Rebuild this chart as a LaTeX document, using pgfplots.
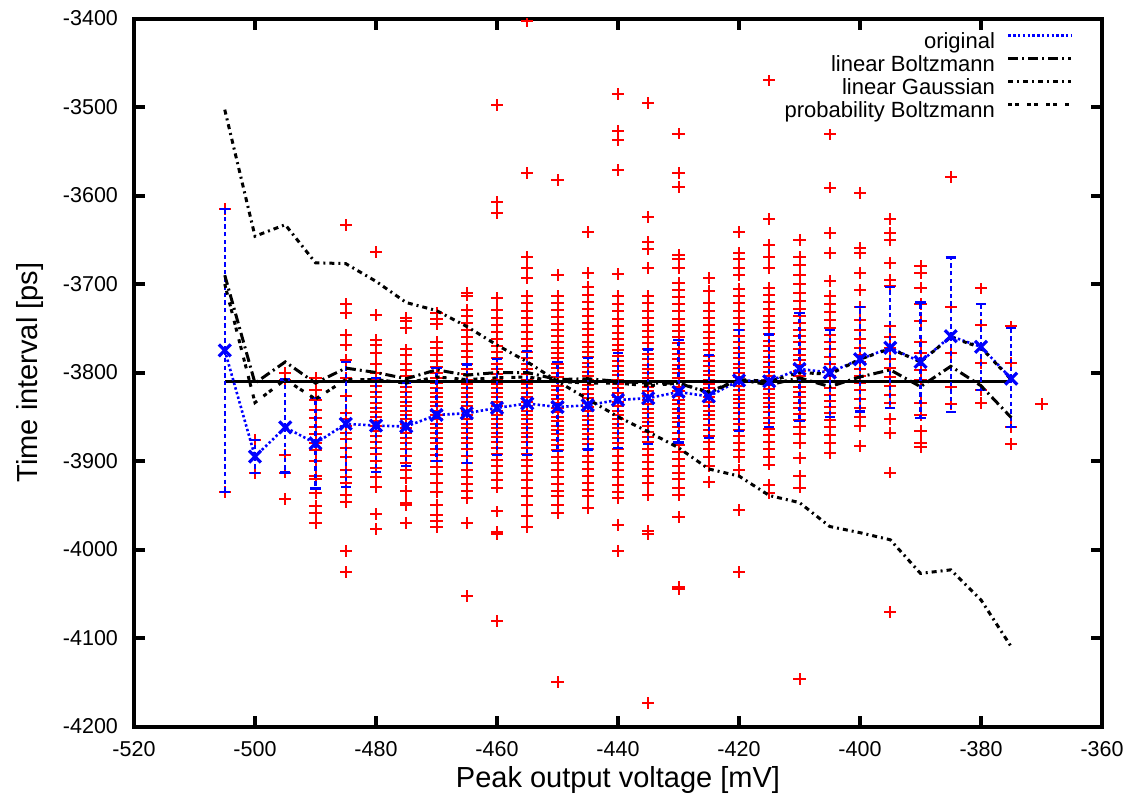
\documentclass[border=0pt]{standalone}
\usepackage{fontspec}
\setmainfont{Liberation Sans}
\usepackage{pgfplots}
\pgfplotsset{compat=1.18}
\definecolor{gpblue}{RGB}{0,0,255}
\definecolor{gpred}{RGB}{255,0,0}
% each sample is drawn as a "+" built from two fixed-size error bars
\pgfplotsset{scat/.style={draw=none, mark=none, forget plot,
  error bars/.cd, x dir=both, y dir=both, x fixed=1.0, y fixed=6.7,
  error mark=none, error bar style={draw=gpred, solid, line width=1pt}}}
\begin{document}
\begin{tikzpicture}
\begin{axis}[
  scale only axis, width=484pt, height=354pt,
  xmin=-520, xmax=-360, ymin=-4200, ymax=-3400,
  xtick={-520,-500,-480,-460,-440,-420,-400,-380,-360},
  ytick={-4200,-4100,-4000,-3900,-3800,-3700,-3600,-3500,-3400},
  scaled ticks=false,
  /pgf/number format/assume math mode=true,
  /pgf/number format/set thousands separator={},
  tick align=inside, major tick length=5.5pt,
  every tick/.style={black, line width=2pt},
  axis line style={line width=2pt},
  xticklabel style={font=\fontsize{10.75}{12}\selectfont, yshift=-4pt},
  yticklabel style={font=\fontsize{10.75}{12}\selectfont, xshift=-4.5pt},
  xlabel={Peak output voltage [mV]},
  ylabel={Time interval [ps]},
  every axis x label/.style={at={(axis description cs:0.5,-0.075)}, anchor=center, font=\fontsize{14.5}{17}\selectfont},
  every axis y label/.style={at={(axis description cs:-0.107,0.5)}, anchor=center, rotate=90, font=\fontsize{14.5}{17}\selectfont},
  legend style={draw=none, fill=none, inner sep=0pt, outer sep=0pt,
    at={(0.97,0.981)}, anchor=north east,
    font=\fontsize{11}{12}\selectfont,
    nodes={inner sep=0pt, text height=8.25pt, text depth=3.25pt},
    /tikz/column sep=6pt, /tikz/row sep=0pt},
  legend cell align=right,
  legend plot pos=right,
  legend image code/.code={\draw[#1, mark=none] (0pt,4pt) -- (31.5pt,4pt);},
]
% scatter of all samples, one column per peak voltage
\addplot[scat] coordinates {(-505,-3615) (-505,-3935)};
\addplot[scat] coordinates {(-500,-3876) (-500,-3914)};
\addplot[scat] coordinates {(-495,-3800) (-495,-3808) (-495,-3893) (-495,-3913) (-495,-3943)};
\addplot[scat] coordinates {(-490,-3806) (-490,-3820) (-490,-3831) (-490,-3842) (-490,-3851) (-490,-3862) (-490,-3870) (-490,-3880) (-490,-3888) (-490,-3900) (-490,-3917) (-490,-3920) (-490,-3936) (-490,-3951) (-490,-3959) (-490,-3970)};
\addplot[scat] coordinates {(-485,-3633) (-485,-3723) (-485,-3733) (-485,-3758) (-485,-3769) (-485,-3786) (-485,-3806) (-485,-3827) (-485,-3846) (-485,-3852) (-485,-3860) (-485,-3868) (-485,-3875) (-485,-3885) (-485,-3896) (-485,-3910) (-485,-3918) (-485,-3925) (-485,-3938) (-485,-3946) (-485,-4002) (-485,-4025)};
\addplot[scat] coordinates {(-480,-3664) (-480,-3735) (-480,-3763) (-480,-3769) (-480,-3778) (-480,-3790) (-480,-3800) (-480,-3808) (-480,-3815) (-480,-3822) (-480,-3828) (-480,-3835) (-480,-3840) (-480,-3845) (-480,-3850) (-480,-3855) (-480,-3860) (-480,-3866) (-480,-3872) (-480,-3878) (-480,-3885) (-480,-3892) (-480,-3900) (-480,-3908) (-480,-3918) (-480,-3929) (-480,-3960) (-480,-3977)};
\addplot[scat] coordinates {(-475,-3738) (-475,-3742) (-475,-3750) (-475,-3774) (-475,-3780) (-475,-3790) (-475,-3797) (-475,-3804) (-475,-3810) (-475,-3816) (-475,-3822) (-475,-3828) (-475,-3833) (-475,-3838) (-475,-3843) (-475,-3848) (-475,-3853) (-475,-3858) (-475,-3863) (-475,-3868) (-475,-3874) (-475,-3880) (-475,-3887) (-475,-3894) (-475,-3902) (-475,-3910) (-475,-3919) (-475,-3934) (-475,-3947) (-475,-3950) (-475,-3970)};
\addplot[scat] coordinates {(-470,-3733) (-470,-3740) (-470,-3745) (-470,-3765) (-470,-3772) (-470,-3780) (-470,-3787) (-470,-3794) (-470,-3800) (-470,-3806) (-470,-3812) (-470,-3818) (-470,-3823) (-470,-3828) (-470,-3833) (-470,-3838) (-470,-3843) (-470,-3848) (-470,-3853) (-470,-3858) (-470,-3863) (-470,-3868) (-470,-3874) (-470,-3880) (-470,-3886) (-470,-3893) (-470,-3900) (-470,-3907) (-470,-3915) (-470,-3925) (-470,-3935) (-470,-3950) (-470,-3961) (-470,-3968) (-470,-3975)};
\addplot[scat] coordinates {(-465,-3710) (-465,-3713) (-465,-3729) (-465,-3736) (-465,-3744) (-465,-3752) (-465,-3760) (-465,-3768) (-465,-3776) (-465,-3783) (-465,-3790) (-465,-3796) (-465,-3802) (-465,-3808) (-465,-3813) (-465,-3818) (-465,-3823) (-465,-3828) (-465,-3833) (-465,-3838) (-465,-3843) (-465,-3848) (-465,-3853) (-465,-3858) (-465,-3863) (-465,-3868) (-465,-3874) (-465,-3880) (-465,-3887) (-465,-3894) (-465,-3902) (-465,-3910) (-465,-3918) (-465,-3926) (-465,-3934) (-465,-3942) (-465,-3970) (-465,-4053)};
\addplot[scat] coordinates {(-460,-3498) (-460,-3607) (-460,-3620) (-460,-3716) (-460,-3729) (-460,-3738) (-460,-3746) (-460,-3754) (-460,-3762) (-460,-3770) (-460,-3777) (-460,-3784) (-460,-3790) (-460,-3796) (-460,-3802) (-460,-3808) (-460,-3813) (-460,-3818) (-460,-3823) (-460,-3828) (-460,-3833) (-460,-3838) (-460,-3843) (-460,-3848) (-460,-3853) (-460,-3858) (-460,-3863) (-460,-3868) (-460,-3873) (-460,-3879) (-460,-3885) (-460,-3892) (-460,-3899) (-460,-3906) (-460,-3914) (-460,-3922) (-460,-3930) (-460,-3957) (-460,-3980) (-460,-3983) (-460,-4081)};
\addplot[scat] coordinates {(-455,-3403) (-455,-3575) (-455,-3669) (-455,-3682) (-455,-3693) (-455,-3713) (-455,-3722) (-455,-3730) (-455,-3738) (-455,-3746) (-455,-3754) (-455,-3762) (-455,-3770) (-455,-3777) (-455,-3784) (-455,-3790) (-455,-3796) (-455,-3802) (-455,-3808) (-455,-3813) (-455,-3818) (-455,-3823) (-455,-3828) (-455,-3833) (-455,-3838) (-455,-3843) (-455,-3848) (-455,-3853) (-455,-3858) (-455,-3863) (-455,-3868) (-455,-3873) (-455,-3879) (-455,-3885) (-455,-3892) (-455,-3899) (-455,-3906) (-455,-3914) (-455,-3922) (-455,-3930) (-455,-3940) (-455,-3950) (-455,-3962) (-455,-3975)};
\addplot[scat] coordinates {(-450,-3582) (-450,-3690) (-450,-3713) (-450,-3721) (-450,-3729) (-450,-3737) (-450,-3745) (-450,-3752) (-450,-3759) (-450,-3766) (-450,-3772) (-450,-3778) (-450,-3784) (-450,-3790) (-450,-3795) (-450,-3800) (-450,-3805) (-450,-3810) (-450,-3815) (-450,-3820) (-450,-3825) (-450,-3830) (-450,-3835) (-450,-3840) (-450,-3845) (-450,-3850) (-450,-3855) (-450,-3860) (-450,-3865) (-450,-3870) (-450,-3876) (-450,-3882) (-450,-3888) (-450,-3895) (-450,-3902) (-450,-3910) (-450,-3918) (-450,-3926) (-450,-3934) (-450,-3940) (-450,-3950) (-450,-3959) (-450,-4150)};
\addplot[scat] coordinates {(-445,-3641) (-445,-3688) (-445,-3703) (-445,-3712) (-445,-3720) (-445,-3728) (-445,-3736) (-445,-3744) (-445,-3751) (-445,-3758) (-445,-3765) (-445,-3771) (-445,-3777) (-445,-3783) (-445,-3789) (-445,-3794) (-445,-3799) (-445,-3804) (-445,-3809) (-445,-3814) (-445,-3819) (-445,-3824) (-445,-3829) (-445,-3834) (-445,-3839) (-445,-3844) (-445,-3849) (-445,-3854) (-445,-3859) (-445,-3864) (-445,-3869) (-445,-3875) (-445,-3881) (-445,-3887) (-445,-3894) (-445,-3901) (-445,-3909) (-445,-3917) (-445,-3925) (-445,-3933) (-445,-3940) (-445,-3953)};
\addplot[scat] coordinates {(-440,-3485) (-440,-3527) (-440,-3537) (-440,-3571) (-440,-3689) (-440,-3714) (-440,-3723) (-440,-3731) (-440,-3739) (-440,-3747) (-440,-3755) (-440,-3762) (-440,-3769) (-440,-3775) (-440,-3781) (-440,-3787) (-440,-3793) (-440,-3798) (-440,-3803) (-440,-3808) (-440,-3813) (-440,-3818) (-440,-3823) (-440,-3828) (-440,-3833) (-440,-3838) (-440,-3843) (-440,-3848) (-440,-3853) (-440,-3858) (-440,-3863) (-440,-3868) (-440,-3874) (-440,-3880) (-440,-3887) (-440,-3894) (-440,-3902) (-440,-3910) (-440,-3918) (-440,-3927) (-440,-3935) (-440,-3942) (-440,-3972) (-440,-4002)};
\addplot[scat] coordinates {(-435,-3495) (-435,-3624) (-435,-3652) (-435,-3661) (-435,-3682) (-435,-3714) (-435,-3722) (-435,-3730) (-435,-3738) (-435,-3746) (-435,-3753) (-435,-3760) (-435,-3767) (-435,-3773) (-435,-3779) (-435,-3785) (-435,-3791) (-435,-3796) (-435,-3801) (-435,-3806) (-435,-3811) (-435,-3816) (-435,-3821) (-435,-3826) (-435,-3831) (-435,-3836) (-435,-3841) (-435,-3846) (-435,-3851) (-435,-3856) (-435,-3861) (-435,-3867) (-435,-3873) (-435,-3879) (-435,-3886) (-435,-3893) (-435,-3901) (-435,-3909) (-435,-3917) (-435,-3925) (-435,-3938) (-435,-3979) (-435,-3982) (-435,-4173)};
\addplot[scat] coordinates {(-430,-3530) (-430,-3575) (-430,-3590) (-430,-3667) (-430,-3672) (-430,-3682) (-430,-3699) (-430,-3707) (-430,-3715) (-430,-3723) (-430,-3731) (-430,-3739) (-430,-3746) (-430,-3753) (-430,-3760) (-430,-3767) (-430,-3773) (-430,-3779) (-430,-3785) (-430,-3791) (-430,-3796) (-430,-3801) (-430,-3806) (-430,-3811) (-430,-3816) (-430,-3821) (-430,-3826) (-430,-3831) (-430,-3836) (-430,-3841) (-430,-3846) (-430,-3851) (-430,-3856) (-430,-3862) (-430,-3868) (-430,-3875) (-430,-3882) (-430,-3890) (-430,-3898) (-430,-3906) (-430,-3913) (-430,-3920) (-430,-3930) (-430,-3938) (-430,-3963) (-430,-4042) (-430,-4045)};
\addplot[scat] coordinates {(-425,-3693) (-425,-3708) (-425,-3721) (-425,-3730) (-425,-3738) (-425,-3746) (-425,-3754) (-425,-3761) (-425,-3768) (-425,-3775) (-425,-3781) (-425,-3787) (-425,-3793) (-425,-3798) (-425,-3803) (-425,-3808) (-425,-3813) (-425,-3818) (-425,-3823) (-425,-3828) (-425,-3833) (-425,-3838) (-425,-3843) (-425,-3848) (-425,-3853) (-425,-3859) (-425,-3865) (-425,-3872) (-425,-3879) (-425,-3887) (-425,-3895) (-425,-3906) (-425,-3924)};
\addplot[scat] coordinates {(-420,-3641) (-420,-3665) (-420,-3672) (-420,-3682) (-420,-3690) (-420,-3706) (-420,-3714) (-420,-3722) (-420,-3730) (-420,-3738) (-420,-3745) (-420,-3752) (-420,-3759) (-420,-3766) (-420,-3772) (-420,-3778) (-420,-3784) (-420,-3790) (-420,-3795) (-420,-3800) (-420,-3805) (-420,-3810) (-420,-3815) (-420,-3820) (-420,-3825) (-420,-3830) (-420,-3835) (-420,-3840) (-420,-3846) (-420,-3852) (-420,-3858) (-420,-3865) (-420,-3872) (-420,-3880) (-420,-3888) (-420,-3895) (-420,-3910) (-420,-3955) (-420,-4025)};
\addplot[scat] coordinates {(-415,-3470) (-415,-3627) (-415,-3656) (-415,-3669) (-415,-3682) (-415,-3704) (-415,-3712) (-415,-3720) (-415,-3728) (-415,-3736) (-415,-3743) (-415,-3750) (-415,-3757) (-415,-3764) (-415,-3770) (-415,-3776) (-415,-3782) (-415,-3788) (-415,-3794) (-415,-3799) (-415,-3804) (-415,-3809) (-415,-3814) (-415,-3819) (-415,-3824) (-415,-3829) (-415,-3834) (-415,-3839) (-415,-3845) (-415,-3851) (-415,-3857) (-415,-3864) (-415,-3871) (-415,-3879) (-415,-3887) (-415,-3895) (-415,-3904) (-415,-3927) (-415,-3936)};
\addplot[scat] coordinates {(-410,-3650) (-410,-3669) (-410,-3678) (-410,-3690) (-410,-3700) (-410,-3710) (-410,-3719) (-410,-3728) (-410,-3736) (-410,-3744) (-410,-3752) (-410,-3759) (-410,-3766) (-410,-3773) (-410,-3780) (-410,-3786) (-410,-3792) (-410,-3798) (-410,-3804) (-410,-3810) (-410,-3816) (-410,-3822) (-410,-3828) (-410,-3834) (-410,-3840) (-410,-3847) (-410,-3854) (-410,-3862) (-410,-3870) (-410,-3880) (-410,-3897) (-410,-3917) (-410,-3930) (-410,-4146)};
\addplot[scat] coordinates {(-405,-3531) (-405,-3591) (-405,-3642) (-405,-3665) (-405,-3697) (-405,-3714) (-405,-3723) (-405,-3732) (-405,-3741) (-405,-3750) (-405,-3758) (-405,-3766) (-405,-3774) (-405,-3782) (-405,-3790) (-405,-3797) (-405,-3804) (-405,-3811) (-405,-3818) (-405,-3825) (-405,-3832) (-405,-3839) (-405,-3846) (-405,-3854) (-405,-3862) (-405,-3871) (-405,-3880) (-405,-3891)};
\addplot[scat] coordinates {(-400,-3597) (-400,-3659) (-400,-3665) (-400,-3688) (-400,-3707) (-400,-3726) (-400,-3741) (-400,-3752) (-400,-3762) (-400,-3772) (-400,-3780) (-400,-3788) (-400,-3796) (-400,-3804) (-400,-3812) (-400,-3820) (-400,-3830) (-400,-3840) (-400,-3850) (-400,-3861) (-400,-3883)};
\addplot[scat] coordinates {(-395,-3627) (-395,-3642) (-395,-3650) (-395,-3676) (-395,-3695) (-395,-3702) (-395,-3748) (-395,-3760) (-395,-3772) (-395,-3785) (-395,-3795) (-395,-3805) (-395,-3815) (-395,-3825) (-395,-3834) (-395,-3853) (-395,-3868) (-395,-3913) (-395,-4071)};
\addplot[scat] coordinates {(-390,-3680) (-390,-3688) (-390,-3704) (-390,-3723) (-390,-3742) (-390,-3765) (-390,-3778) (-390,-3797) (-390,-3808) (-390,-3834) (-390,-3848) (-390,-3866) (-390,-3880) (-390,-3884)};
\addplot[scat] coordinates {(-385,-3579) (-385,-3726) (-385,-3778) (-385,-3816) (-385,-3836)};
\addplot[scat] coordinates {(-380,-3705) (-380,-3746) (-380,-3789) (-380,-3820) (-380,-3834)};
\addplot[scat] coordinates {(-375,-3748) (-375,-3789) (-375,-3862) (-375,-3881)};
\addplot[scat] coordinates {(-370,-3836)};
% overall mean
\addplot[black, line width=1.2pt, forget plot] coordinates {(-505,-3810) (-375,-3810)};
% original: mean with error bars
\addplot[color=gpblue, line width=1.3pt, dash pattern=on 1.2pt off 1.2pt,
  mark=x, mark size=4.2pt, mark options={solid, line width=1.6pt},
  error bars/.cd, y dir=both, y explicit,
  error bar style={line width=1.1pt, dash pattern=on 2.2pt off 1.6pt},
  error mark options={solid, line width=1.1pt, mark size=2.6pt, rotate=90}]
  table[x=x, y=y, y error plus=ep, y error minus=em] {
x y ep em
-505 -3775 160 160
-500 -3895 19 19
-495 -3862 54 51
-490 -3880 51 51
-485 -3858 70 71
-480 -3860 54 52
-475 -3861 49 45
-470 -3848 53 52
-465 -3846 55 56
-460 -3840 55 53
-455 -3835 59 58
-450 -3839 51 50
-445 -3837 53 50
-440 -3831 53 54
-435 -3829 55 52
-430 -3822 59 57
-425 -3827 47 47
-420 -3809 57 57
-415 -3810 53 52
-410 -3796 63 59
-405 -3800 48 50
-400 -3785 59 59
-395 -3772 69 68
-390 -3788 67 63
-385 -3759 89 86
-380 -3771 48 49
-375 -3807 57 55
};
\addlegendentry{original}
% linear Boltzmann
\addplot[black, line width=1.5pt, dash pattern=on 5pt off 2pt on 1pt off 2pt] coordinates {
(-505,-3690) (-500,-3812) (-495,-3788) (-490,-3812) (-485,-3795) (-480,-3800) (-475,-3807) (-470,-3797) (-465,-3803) (-460,-3800) (-455,-3800) (-450,-3808) (-445,-3807) (-440,-3810) (-435,-3812) (-430,-3812) (-425,-3823) (-420,-3808) (-415,-3814) (-410,-3806) (-405,-3816) (-400,-3805) (-395,-3797) (-390,-3816) (-385,-3793) (-380,-3815) (-375,-3851)
};
\addlegendentry{linear Boltzmann}
% linear Gaussian
\addplot[black, line width=1.5pt, dash pattern=on 2.5pt off 2pt on 1pt off 2pt] coordinates {
(-505,-3503) (-500,-3646) (-495,-3633) (-490,-3676) (-485,-3677) (-480,-3697) (-475,-3721) (-470,-3730) (-465,-3748) (-460,-3769) (-455,-3788) (-450,-3810) (-445,-3830) (-440,-3850) (-435,-3867) (-430,-3885) (-425,-3909) (-420,-3917) (-415,-3939) (-410,-3947) (-405,-3974) (-400,-3981) (-395,-3989) (-390,-4027) (-385,-4023) (-380,-4057) (-375,-4110)
};
\addlegendentry{linear Gaussian}
% probability Boltzmann
\addplot[black, line width=1.5pt, dash pattern=on 2pt off 1.5pt on 2pt off 4pt] coordinates {
(-505,-3700) (-500,-3834) (-495,-3808) (-490,-3830) (-485,-3808) (-480,-3808) (-475,-3812) (-470,-3805) (-465,-3808) (-460,-3806) (-455,-3805) (-450,-3810) (-445,-3812) (-440,-3812) (-435,-3815) (-430,-3812) (-425,-3822) (-420,-3808) (-415,-3810) (-410,-3800) (-405,-3802) (-400,-3785) (-395,-3773) (-390,-3788) (-385,-3760) (-380,-3772) (-375,-3808)
};
\addlegendentry{probability Boltzmann}
\end{axis}
\pgfresetboundingbox
\path (-67pt,-35pt) rectangle (496.5pt,363.25pt);
\end{tikzpicture}
\end{document}
